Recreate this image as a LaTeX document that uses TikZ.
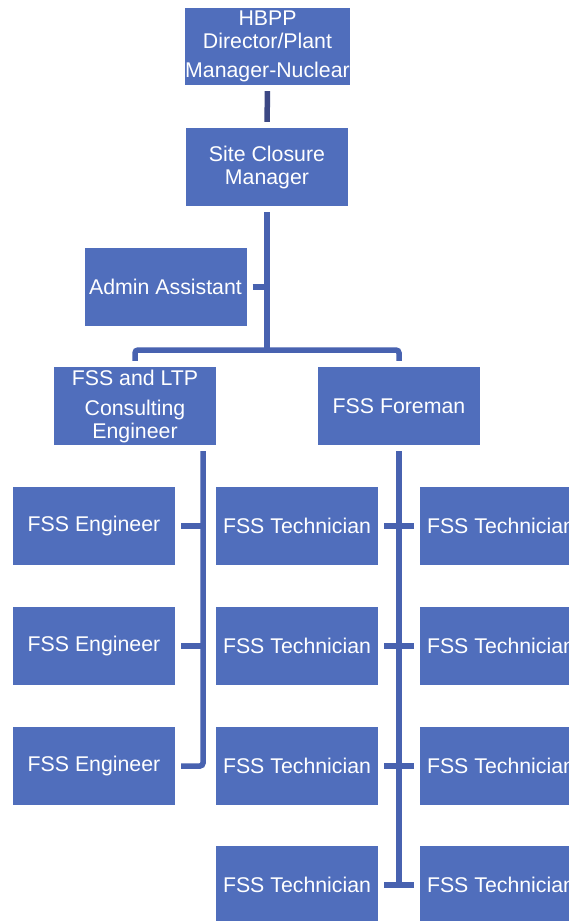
\documentclass[tikz,border=0pt]{standalone}
\usepackage{fontspec}
\setmainfont{Liberation Sans}
\usepackage{tikz}
\usetikzlibrary{positioning}

\definecolor{boxblue}{RGB}{80,110,188}
\definecolor{linkblue}{RGB}{72,98,176}
\definecolor{topnavy}{RGB}{60,72,132}

\tikzset{
  post/.style={fill=boxblue, text=white, inner sep=0pt, align=center,
    minimum width=162pt, minimum height=78pt,
    font=\fontsize{21.3}{23}\selectfont},
  link/.style={draw=linkblue, line width=5.5pt, shorten <=6pt, shorten >=6pt},
  tick/.style={draw=linkblue, line width=5.5pt, shorten <=6pt}
}

\begin{document}
\begin{tikzpicture}[x=1pt, y=-1pt]

  \clip (0,0) rectangle (569,921);
  \fill[white] (0,0) rectangle (569,921);

  \node[post, minimum width=163pt, minimum height=77pt] (hbpp) at (267.5,46.5)
  {HBPP\\Director/Plant\\[6pt]Manager-Nuclear};

  \node[post] (closure) at (267,167)
  {Site Closure\\Manager};

  \node[post] (admin) at (165.5,287)
  {Admin Assistant};

  \node[post] (consult) at (135,406)
  {FSS and LTP\\[7pt]Consulting\\Engineer};

  \node[post] (foreman) at (399,406)
  {FSS Foreman};

  \node[post] (eng1) at (94,526) {FSS Engineer};
  \node[post] (eng2) at (94,646) {FSS Engineer};
  \node[post] (eng3) at (94,766) {FSS Engineer};

  \node[post] (techa1) at (297,526) {FSS Technician};
  \node[post] (techa2) at (297,646) {FSS Technician};
  \node[post] (techa3) at (297,766) {FSS Technician};
  \node[post] (techa4) at (297,885) {FSS Technician};

  \node[post] (techb1) at (501,526) {FSS Technician};
  \node[post] (techb2) at (501,646) {FSS Technician};
  \node[post] (techb3) at (501,766) {FSS Technician};
  \node[post] (techb4) at (501,885) {FSS Technician};

  \coordinate (bar) at (267,350);
  \coordinate (lspine) at (203,445);

  \draw[link, draw=topnavy] (hbpp) -- (closure);
  \draw[link, shorten >=0pt] (closure) -- (bar);
  \draw[tick] (admin) -- (admin -| bar);
  \draw[link, rounded corners=3pt] (consult) |- (bar) -| (foreman);

  \draw[link, rounded corners=3pt] (lspine) |- (eng3);
  \draw[tick] (eng1) -- (eng1 -| lspine);
  \draw[tick] (eng2) -- (eng2 -| lspine);

  \draw[link, shorten >=0pt] (foreman) -- (foreman |- techa4);
  \draw[link] (techa1) -- (techb1);
  \draw[link] (techa2) -- (techb2);
  \draw[link] (techa3) -- (techb3);
  \draw[link] (techa4) -- (techb4);

\end{tikzpicture}
\end{document}
